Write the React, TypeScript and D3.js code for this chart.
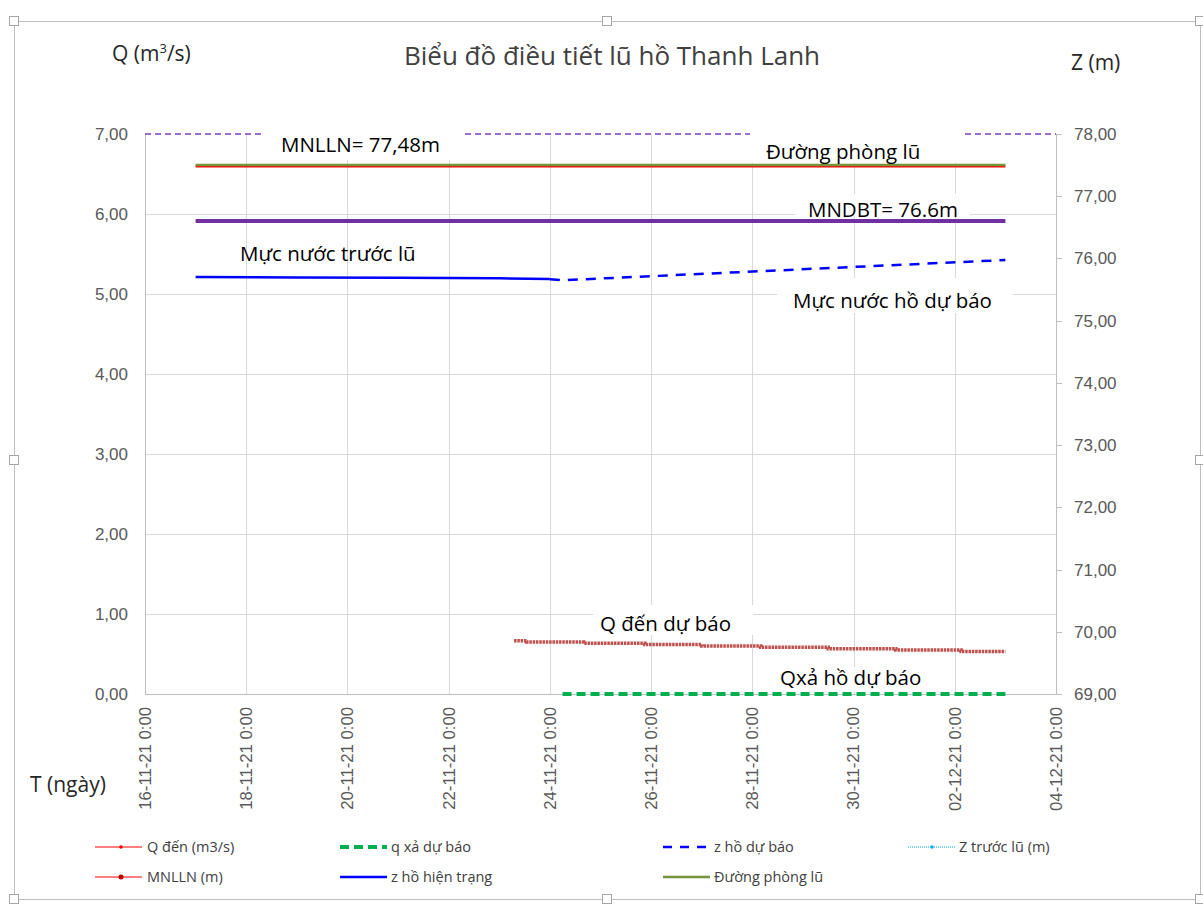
import * as d3 from 'd3';
import { useEffect, useRef } from 'react';

const width = 1203;
const height = 904;

// time axis (ticks every 2 days)
const xDomain = ['2021-11-16T00:00', '2021-12-04T00:00'];
const qTicks = [0, 1, 2, 3, 4, 5, 6, 7];
const zTicks = [69, 70, 71, 72, 73, 74, 75, 76, 77, 78];

// horizontal reference levels (m)
const levelRange = ['2021-11-17T00:00', '2021-12-03T00:00'];
const crestLevel = 78.0;
const mnllnLevel = 77.48;
const phongLuLevel = 77.5;
const mndbtLevel = 76.6;

// z hồ hiện trạng (m)
const zHienTrang: [string, number][] = [
  ['2021-11-17T00:00', 75.7],
  ['2021-11-19T00:00', 75.695],
  ['2021-11-21T00:00', 75.69],
  ['2021-11-23T00:00', 75.68],
  ['2021-11-24T00:00', 75.67],
];

// z hồ dự báo (m)
const zDuBao: [string, number][] = [
  ['2021-11-24T00:00', 75.665],
  ['2021-11-24T06:00', 75.65],
  ['2021-12-03T00:00', 75.975],
];

// Q đến dự báo (m3/s), stepwise
const qDen: [string, number][] = [
  ['2021-11-23T07:00', 0.665],
  ['2021-11-23T13:00', 0.65],
  ['2021-11-24T16:00', 0.635],
  ['2021-11-25T21:00', 0.62],
  ['2021-11-27T00:00', 0.6],
  ['2021-11-28T04:00', 0.585],
  ['2021-11-29T12:00', 0.565],
  ['2021-11-30T20:00', 0.55],
  ['2021-12-02T03:00', 0.53],
  ['2021-12-03T00:00', 0.53],
];

// q xả dự báo (m3/s)
const qXa: [string, number][] = [
  ['2021-11-24T06:00', 0],
  ['2021-12-03T00:00', 0],
];

const legendItems = [
  { label: 'Q đến (m3/s)', color: '#FF0000', dash: null, w: 1.2, marker: 'dot', col: 0, row: 0 },
  { label: 'q xả dự báo', color: '#00B050', dash: '9,5', w: 4, marker: null, col: 1, row: 0 },
  { label: 'z hồ dự báo', color: '#0000FF', dash: '9,8', w: 2.5, marker: null, col: 2, row: 0 },
  { label: 'Z trước lũ (m)', color: '#00B0F0', dash: '1,1', w: 1, marker: 'dot', col: 3, row: 0 },
  { label: 'MNLLN (m)', color: '#FF0000', dash: null, w: 1.2, marker: 'star', col: 0, row: 1 },
  { label: 'z hồ hiện trạng', color: '#0000FF', dash: null, w: 2.5, marker: null, col: 1, row: 1 },
  { label: 'Đường phòng lũ', color: '#77933C', dash: null, w: 2.5, marker: null, col: 2, row: 1 },
];

const annotations = [
  { text: 'MNLLN= 77,48m', x: 281, y: 152, box: [265, 126, 200, 34] },
  { text: 'Đường phòng lũ', x: 766, y: 159, box: [750, 128, 212, 35] },
  { text: 'MNDBT= 76.6m', x: 808, y: 217, box: [795, 194, 175, 22] },
  { text: 'Mực nước trước lũ', x: 240, y: 261, box: null },
  { text: 'Mực nước hồ dự báo', x: 793, y: 308, box: [777, 278, 236, 35] },
  { text: 'Q đến dự báo', x: 600, y: 631, box: [593, 605, 160, 30] },
  { text: 'Qxả hồ dự báo', x: 780, y: 685, box: [775, 667, 150, 25] },
];

const parse = d3.utcParse('%Y-%m-%dT%H:%M');
const fmt = d3.utcFormat('%d-%m-%y 0:00');
const fmtNum = (v: number) => v.toFixed(2).replace('.', ',');

export default function App() {
  const ref = useRef<SVGSVGElement>(null);

  useEffect(() => {
    document.body.style.margin = '0';
    const svg = d3.select(ref.current);
    svg.selectAll('*').remove();

    const plot = { left: 145, right: 1056, top: 134, bottom: 694 };
    const [d0, d1] = xDomain.map((d) => parse(d));
    const x = d3.scaleUtc().domain([d0, d1]).range([plot.left, plot.right]);
    const yQ = d3.scaleLinear().domain([0, 7]).range([plot.bottom, plot.top]);
    const yZ = d3.scaleLinear().domain([69, 78]).range([plot.bottom, plot.top]);
    const xTicks = d3.utcDay.range(d0, new Date(+d1 + 1), 2);

    const sans = 'Liberation Sans, Arial, sans-serif';
    const ann = 'Open Sans, Noto Sans, sans-serif';

    // chart frame (excel selection look)
    svg.append('rect').attr('x', 14.5).attr('y', 21.5).attr('width', 1186).attr('height', 878)
      .attr('fill', 'white').attr('stroke', '#BFBFBF');
    const handles = [[14, 21], [607, 21], [1200, 21], [14, 460], [1200, 460], [14, 899], [607, 899], [1200, 899]];
    svg.append('g').selectAll('rect').data(handles).join('rect')
      .attr('x', (d) => d[0] - 4.5).attr('y', (d) => d[1] - 4.5).attr('width', 9).attr('height', 9)
      .attr('fill', 'white').attr('stroke', '#A6A6A6');

    // gridlines
    const grid = svg.append('g').attr('stroke', '#D9D9D9').attr('stroke-width', 1);
    grid.selectAll('line.h').data(qTicks.filter((t) => t > 0 && t < 7)).join('line')
      .attr('x1', plot.left).attr('x2', plot.right)
      .attr('y1', (d) => Math.round(yQ(d)) + 0.5).attr('y2', (d) => Math.round(yQ(d)) + 0.5);
    grid.selectAll('line.v').data(xTicks.slice(1, -1)).join('line')
      .attr('y1', plot.top).attr('y2', plot.bottom)
      .attr('x1', (d) => Math.round(x(d)) + 0.5).attr('x2', (d) => Math.round(x(d)) + 0.5);

    // axes lines
    const axisG = svg.append('g').attr('stroke', '#BFBFBF').attr('stroke-width', 1);
    axisG.append('line').attr('x1', plot.left + 0.5).attr('x2', plot.left + 0.5).attr('y1', plot.top).attr('y2', plot.bottom);
    axisG.append('line').attr('x1', plot.right + 0.5).attr('x2', plot.right + 0.5).attr('y1', plot.top).attr('y2', plot.bottom);
    axisG.append('line').attr('x1', plot.left).attr('x2', plot.right).attr('y1', plot.bottom + 0.5).attr('y2', plot.bottom + 0.5);
    axisG.selectAll('line.zt').data(zTicks).join('line')
      .attr('x1', plot.right).attr('x2', plot.right + 6)
      .attr('y1', (d) => Math.round(yZ(d)) + 0.5).attr('y2', (d) => Math.round(yZ(d)) + 0.5);

    // crest dashed line (behind label boxes)
    const lineZ = d3.line<[Date, number]>().x((d) => x(d[0])).y((d) => yZ(d[1]));
    const lineQ = d3.line<[Date, number]>().x((d) => x(d[0])).y((d) => yQ(d[1]));
    const levelPts = (v: number): [Date, number][] => levelRange.map((t) => [parse(t), v]);

    svg.append('path')
      .attr('d', lineZ([[d0, crestLevel], [d1, crestLevel]]))
      .attr('fill', 'none').attr('stroke', '#7F3FBF').attr('stroke-width', 1.5).attr('stroke-dasharray', '6,4');

    // label boxes
    svg.append('g').selectAll('rect').data(annotations.filter((a) => a.box)).join('rect')
      .attr('x', (d) => d.box[0]).attr('y', (d) => d.box[1])
      .attr('width', (d) => d.box[2]).attr('height', (d) => d.box[3]).attr('fill', 'white');

    // series
    const toPts = (arr: [string, number][]): [Date, number][] => arr.map((d) => [parse(d[0]), d[1]]);

    svg.append('path').attr('d', lineZ(levelPts(mndbtLevel)))
      .attr('fill', 'none').attr('stroke', '#7030A0').attr('stroke-width', 4);
    svg.append('path').attr('d', lineZ(levelPts(mnllnLevel)))
      .attr('fill', 'none').attr('stroke', '#FF0000').attr('stroke-width', 2.5);
    svg.append('path').attr('d', lineZ(levelPts(phongLuLevel)))
      .attr('fill', 'none').attr('stroke', '#77933C').attr('stroke-width', 2.5);

    svg.append('path').attr('d', lineZ(toPts(zHienTrang)))
      .attr('fill', 'none').attr('stroke', '#0000FF').attr('stroke-width', 2.5);
    svg.append('path').attr('d', lineZ(toPts(zDuBao)))
      .attr('fill', 'none').attr('stroke', '#0000FF').attr('stroke-width', 2.5).attr('stroke-dasharray', '10,8');

    svg.append('path').attr('d', lineQ.curve(d3.curveStepAfter)(toPts(qDen)))
      .attr('fill', 'none').attr('stroke', '#C0504D').attr('stroke-width', 3.5).attr('stroke-dasharray', '2.5,0.8');
    lineQ.curve(d3.curveLinear);

    svg.append('path').attr('d', lineQ(toPts(qXa)))
      .attr('fill', 'none').attr('stroke', '#00B050').attr('stroke-width', 4).attr('stroke-dasharray', '9,5');

    // tick labels
    svg.append('g').selectAll('text').data(qTicks).join('text')
      .attr('x', 128).attr('y', (d) => yQ(d)).attr('dy', '0.35em').attr('text-anchor', 'end')
      .attr('font-family', sans).attr('font-size', 17).attr('fill', '#595959').text((d) => fmtNum(d));
    svg.append('g').selectAll('text').data(zTicks).join('text')
      .attr('x', 1074).attr('y', (d) => yZ(d)).attr('dy', '0.35em').attr('text-anchor', 'start')
      .attr('font-family', sans).attr('font-size', 17).attr('fill', '#595959').text((d) => fmtNum(d));
    svg.append('g').selectAll('text').data(xTicks).join('text')
      .attr('transform', (d) => `translate(${x(d)},${707}) rotate(-90)`)
      .attr('dy', '0.35em').attr('text-anchor', 'end')
      .attr('font-family', sans).attr('font-size', 16.7).attr('fill', '#595959').text((d) => fmt(d));

    // axis titles and chart title
    const qTitle = svg.append('text').attr('x', 112).attr('y', 61)
      .attr('font-family', ann).attr('font-size', 21).attr('fill', '#262626');
    qTitle.append('tspan').text('Q (m');
    qTitle.append('tspan').attr('font-size', 13).attr('dy', -8).text('3');
    qTitle.append('tspan').attr('dy', 8).text('/s)');
    svg.append('text').attr('x', 1071).attr('y', 70).attr('font-family', ann).attr('font-size', 21)
      .attr('fill', '#262626').text('Z (m)');
    svg.append('text').attr('x', 30).attr('y', 792).attr('font-family', ann).attr('font-size', 21)
      .attr('fill', '#262626').text('T (ngày)');
    svg.append('text').attr('x', 612).attr('y', 65).attr('text-anchor', 'middle')
      .attr('font-family', ann).attr('font-size', 26).attr('fill', '#404040')
      .text('Biểu đồ điều tiết lũ hồ Thanh Lanh');

    // annotations
    svg.append('g').selectAll('text').data(annotations).join('text')
      .attr('x', (d) => d.x).attr('y', (d) => d.y)
      .attr('font-family', ann).attr('font-size', 20.5).attr('fill', '#000000').text((d) => d.text);

    // legend
    const colX = [95, 340, 663, 908];
    const rowY = [847, 877];
    const leg = svg.append('g').selectAll('g').data(legendItems).join('g')
      .attr('transform', (d) => `translate(${colX[d.col]},${rowY[d.row]})`);
    leg.append('line').attr('x1', 0).attr('x2', 47).attr('y1', 0).attr('y2', 0)
      .attr('stroke', (d) => d.color).attr('stroke-width', (d) => d.w)
      .attr('stroke-dasharray', (d) => d.dash);
    leg.filter((d) => d.marker).append('circle').attr('cx', (d) => (d.col === 0 ? 26 : 24)).attr('cy', 0)
      .attr('r', (d) => (d.marker === 'star' ? 2.5 : 1.8))
      .attr('fill', (d) => (d.marker === 'star' ? '#C00000' : d.color));
    leg.append('text').attr('x', (d) => (d.col === 0 ? 52 : 51)).attr('y', 0).attr('dy', '0.35em')
      .attr('font-family', ann).attr('font-size', 14.5).attr('fill', '#404040').text((d) => d.label);
  }, []);

  return (
    <svg
      ref={ref}
      width={width}
      height={height}
      style={{ position: 'absolute', left: 0, top: 0, background: '#fff' }}
    />
  );
}
